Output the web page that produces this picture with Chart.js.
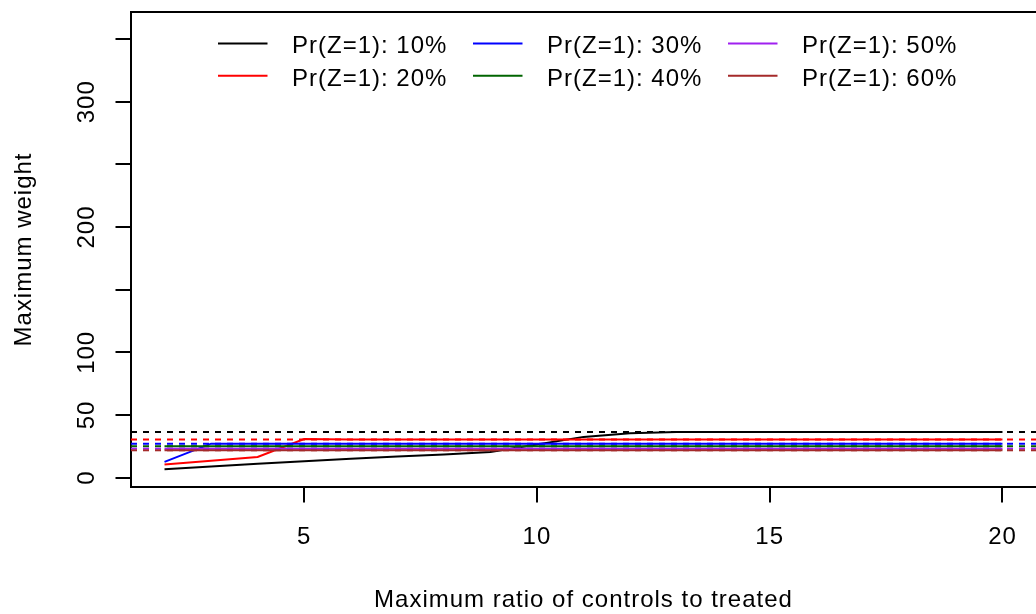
<!DOCTYPE html>
<html>
<head>
<meta charset="utf-8">
<script src="https://cdn.jsdelivr.net/npm/chart.js@4"></script>
<style>
  html, body { margin: 0; padding: 0; background: #ffffff; }
  #wrap { width: 1036px; height: 614px; }
</style>
</head>
<body>
<div id="wrap"><canvas id="c" width="1036" height="614"></canvas></div>
<script>
// ---- data ----
const ratios = [2, 3, 4, 5, 6, 7, 8, 9, 10, 11, 12, 13, 14, 15, 16, 17, 18, 19, 20];

const pr10 = [6.6, 8.8, 11.0, 13.1, 15.0, 16.9, 18.5, 20.5, 26.5, 32.5, 35.3, 36.3, 36.4, 36.4, 36.4, 36.4, 36.4, 36.4, 36.4];
const pr20 = [10.4, 13.4, 16.5, 30.8, 30.5, 30.5, 30.5, 30.5, 30.5, 30.5, 30.5, 30.5, 30.5, 30.5, 30.5, 30.5, 30.5, 30.5, 30.5];
const pr30 = [12.5, 27.1, 27.1, 27.1, 27.1, 27.1, 27.1, 27.1, 27.1, 27.1, 27.1, 27.1, 27.1, 27.1, 27.1, 27.1, 27.1, 27.1, 27.1];
const pr40 = [25.1, 25.1, 25.1, 25.1, 25.1, 25.1, 25.1, 25.1, 25.1, 25.1, 25.1, 25.1, 25.1, 25.1, 25.1, 25.1, 25.1, 25.1, 25.1];
const pr50 = [23.1, 23.1, 23.1, 23.1, 23.1, 23.1, 23.1, 23.1, 23.1, 23.1, 23.1, 23.1, 23.1, 23.1, 23.1, 23.1, 23.1, 23.1, 23.1];
const pr60 = [21.8, 21.8, 21.8, 21.8, 21.8, 21.8, 21.8, 21.8, 21.8, 21.8, 21.8, 21.8, 21.8, 21.8, 21.8, 21.8, 21.8, 21.8, 21.8];

// horizontal dashed reference levels (one per series)
const refLevels = [36.4, 30.5, 27.1, 25.1, 23.1, 21.8];

const seriesNames = ['Pr(Z=1): 10%', 'Pr(Z=1): 20%', 'Pr(Z=1): 30%', 'Pr(Z=1): 40%', 'Pr(Z=1): 50%', 'Pr(Z=1): 60%'];
const seriesColors = ['#000000', '#FF0000', '#0000FF', '#006400', '#A020F0', '#A52A2A'];

const xTickValues = [5, 10, 15, 20];
const xTickLabels = ['5', '10', '15', '20'];
const yTickValues = [0, 50, 100, 150, 200, 250, 300, 350];
const yTickLabels = ['0', '50', '100', '', '200', '', '300', ''];

const xTitle = 'Maximum ratio of controls to treated';
const yTitle = 'Maximum weight';

// ---- build chart ----
const allSeries = [pr10, pr20, pr30, pr40, pr50, pr60];
const FONT = '24px "Liberation Sans", Arial, Helvetica, sans-serif';
const LW = 2;

const datasets = allSeries.map((vals, i) => ({
  label: seriesNames[i],
  data: ratios.map((r, k) => ({ x: r, y: vals[k] })),
  borderColor: seriesColors[i],
  backgroundColor: seriesColors[i],
  borderWidth: LW,
  pointRadius: 0,
  tension: 0,
  fill: false,
  order: allSeries.length - 1 - i
}));

const textPlugin = {
  id: 'rStyle',
  afterDatasetsDraw(chart) {
    const ctx = chart.ctx;
    const a = chart.chartArea;
    const ys = chart.scales.y;
    // dashed reference lines
    ctx.save();
    ctx.beginPath();
    ctx.rect(a.left, a.top, a.right - a.left, a.bottom - a.top);
    ctx.clip();
    ctx.lineWidth = LW;
    ctx.setLineDash([6, 6]);
    refLevels.forEach((lv, i) => {
      const py = ys.getPixelForValue(lv);
      ctx.strokeStyle = seriesColors[i];
      ctx.beginPath();
      ctx.moveTo(a.left, py);
      ctx.lineTo(a.right, py);
      ctx.stroke();
    });
    ctx.restore();
  },
  afterDraw(chart) {
    const ctx = chart.ctx;
    const a = chart.chartArea;
    const xs = chart.scales.x;
    const ys = chart.scales.y;
    ctx.save();
    // top border of the box
    ctx.strokeStyle = '#000';
    ctx.lineWidth = LW;
    ctx.beginPath();
    ctx.moveTo(a.left - 1, a.top);
    ctx.lineTo(a.right + 2, a.top);
    ctx.stroke();

    ctx.fillStyle = '#000';
    ctx.font = FONT;
    try { ctx.letterSpacing = '1px'; } catch (e) {}

    // x tick labels
    ctx.textAlign = 'center';
    ctx.textBaseline = 'alphabetic';
    xTickValues.forEach((v, i) => {
      ctx.fillText(xTickLabels[i], xs.getPixelForValue(v), 543.5);
    });
    // x title
    ctx.fillText(xTitle, (a.left + a.right) / 2, 606.5);

    // y tick labels (rotated)
    yTickValues.forEach((v, i) => {
      if (!yTickLabels[i]) return;
      ctx.save();
      ctx.translate(93.5, ys.getPixelForValue(v));
      ctx.rotate(-Math.PI / 2);
      ctx.textAlign = 'center';
      ctx.fillText(yTickLabels[i], 0, 0);
      ctx.restore();
    });
    // y title
    ctx.save();
    ctx.translate(30.5, (a.top + a.bottom) / 2);
    ctx.rotate(-Math.PI / 2);
    ctx.textAlign = 'center';
    ctx.fillText(yTitle, 0, 0);
    ctx.restore();

    // legend (column-major, 3 columns x 2 rows)
    const colX = [218, 473, 728];
    const rowY = [43.5, 75.8];
    ctx.textAlign = 'left';
    seriesNames.forEach((name, i) => {
      const c = Math.floor(i / 2), r = i % 2;
      ctx.strokeStyle = seriesColors[i];
      ctx.lineWidth = LW;
      ctx.setLineDash([]);
      ctx.beginPath();
      ctx.moveTo(colX[c], rowY[r]);
      ctx.lineTo(colX[c] + 49.5, rowY[r]);
      ctx.stroke();
      ctx.fillStyle = '#000';
      ctx.fillText(name, colX[c] + 74, rowY[r] + 9.8);
    });
    ctx.restore();
  }
};

new Chart(document.getElementById('c'), {
  type: 'line',
  data: { datasets },
  options: {
    responsive: false,
    animation: false,
    devicePixelRatio: 1,
    layout: { padding: { top: 12, right: 0, bottom: 0, left: 0 } },
    plugins: { legend: { display: false }, tooltip: { enabled: false }, title: { display: false } },
    scales: {
      x: {
        type: 'linear',
        min: 1.28,
        max: 20.72,
        afterBuildTicks: s => { s.ticks = xTickValues.map(v => ({ value: v })); },
        afterFit: s => { s.height = 127; },
        grid: { drawOnChartArea: false, drawTicks: true, tickLength: 15.5, color: '#000', lineWidth: LW },
        border: { display: true, color: '#000', width: LW },
        ticks: { display: false }
      },
      y: {
        type: 'linear',
        min: -7.5,
        max: 371.6,
        afterBuildTicks: s => { s.ticks = yTickValues.map(v => ({ value: v })); },
        afterFit: s => { s.width = 131; },
        grid: { drawOnChartArea: false, drawTicks: true, tickLength: 15.5, color: '#000', lineWidth: LW },
        border: { display: true, color: '#000', width: LW },
        ticks: { display: false }
      }
    }
  },
  plugins: [textPlugin]
});
</script>
</body>
</html>
